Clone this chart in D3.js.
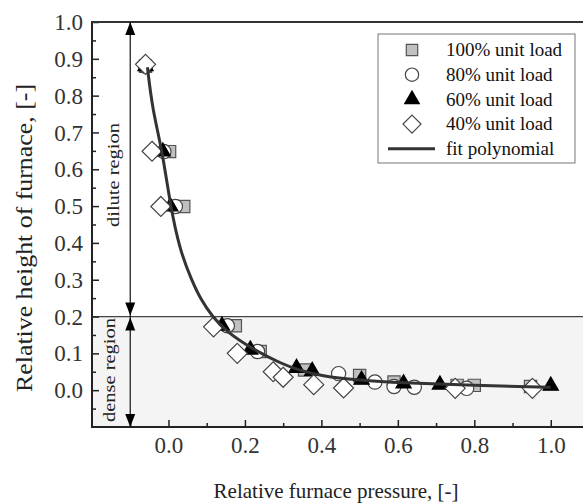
<!DOCTYPE html>
<html><head><meta charset="utf-8">
<script src="https://cdn.jsdelivr.net/npm/d3@7"></script>
<style>body{margin:0;background:#fff}svg{display:block}</style>
</head><body>
<script>
const xTicks=[0.0,0.2,0.4,0.6,0.8,1.0];
const yTicks=[0.0,0.1,0.2,0.3,0.4,0.5,0.6,0.7,0.8,0.9,1.0];
const load100=[[-0.06,0.88],[0.003,0.648],[0.04,0.499],[0.175,0.175],[0.24,0.105],[0.356,0.055],[0.50,0.04],[0.59,0.022],[0.755,0.013],[0.80,0.013],[0.947,0.01]];
const load80=[[-0.06,0.88],[-0.012,0.648],[0.018,0.499],[0.154,0.175],[0.233,0.105],[0.445,0.045],[0.54,0.022],[0.59,0.01],[0.643,0.008],[0.78,0.005]];
const load60=[[-0.06,0.88],[-0.015,0.648],[0.005,0.499],[0.14,0.175],[0.214,0.11],[0.335,0.06],[0.376,0.052],[0.505,0.028],[0.615,0.018],[0.71,0.015],[1.0,0.012]];
const load40=[[-0.06,0.885],[-0.043,0.649],[-0.02,0.499],[0.118,0.172],[0.18,0.1],[0.274,0.05],[0.30,0.035],[0.38,0.015],[0.458,0.006],[0.75,0.005],[0.952,0.005]];
const fitCurve=[[-0.055,0.877],[-0.042,0.763],[-0.016,0.65],[0.005,0.5],[0.03,0.38],[0.06,0.3],[0.085,0.245],[0.115,0.2],[0.15,0.16],[0.222,0.11],[0.3,0.07],[0.335,0.057],[0.4,0.038],[0.5,0.027],[0.6,0.02],[0.8,0.013],[1.0,0.008]];
const legendLabels=["100% unit load","80% unit load","60% unit load","40% unit load","fit polynomial"];

const W=583,H=504;
const FONT='"Liberation Serif"';
const svg=d3.select("body").append("svg").attr("width",W).attr("height",H).style("font-family",FONT);
const x=d3.scaleLinear().domain([-0.2,1.1]).range([92,589]);
const y=d3.scaleLinear().domain([-0.1,1.0]).range([427,22]);

// backgrounds
svg.append("rect").attr("x",x(-0.2)).attr("y",y(0.2)).attr("width",x(1.1)-x(-0.2)).attr("height",y(-0.1)-y(0.2)).attr("fill","#f4f4f4");
svg.append("line").attr("x1",x(-0.2)).attr("x2",x(1.1)).attr("y1",y(0.2)).attr("y2",y(0.2)).attr("stroke","#444").attr("stroke-width",1.2);

// axes
const yAx=d3.axisRight(y).tickValues(yTicks).tickSize(7).tickFormat(d3.format(".1f"));
const gy=svg.append("g").attr("transform",`translate(${x(-0.2)},0)`).call(yAx).attr("font-family",null).attr("font-size",null);
gy.select(".domain").remove();
gy.selectAll("line").attr("stroke","#222").attr("stroke-width",1.5);
gy.selectAll("text").attr("x",-9).attr("text-anchor","end").attr("dy","0.33em").style("font-family",FONT).style("font-size","23px").attr("fill","#333");
const yMinor=d3.axisRight(y).tickValues(d3.range(-0.05,1.0,0.1)).tickSize(4).tickFormat("");
const gym=svg.append("g").attr("transform",`translate(${x(-0.2)},0)`).call(yMinor);
gym.select(".domain").remove();gym.selectAll("line").attr("stroke","#222").attr("stroke-width",1.5);

const xAx=d3.axisTop(x).tickValues(xTicks).tickSize(7).tickFormat(d3.format(".1f"));
const gx=svg.append("g").attr("transform",`translate(0,${y(-0.1)})`).call(xAx).attr("font-family",null).attr("font-size",null);
gx.select(".domain").remove();
gx.selectAll("line").attr("stroke","#222").attr("stroke-width",1.5);
gx.selectAll("text").attr("y",26).attr("dy",0).style("font-family",FONT).style("font-size","23px").attr("fill","#333").attr("text-anchor","middle");
const xMinor=d3.axisTop(x).tickValues([-0.1,0.1,0.3,0.5,0.7,0.9]).tickSize(4).tickFormat("");
const gxm=svg.append("g").attr("transform",`translate(0,${y(-0.1)})`).call(xMinor);
gxm.select(".domain").remove();gxm.selectAll("line").attr("stroke","#222").attr("stroke-width",1.5);

// frame
svg.append("line").attr("x1",x(-0.2)).attr("x2",x(-0.2)).attr("y1",y(1.0)).attr("y2",y(-0.1)).attr("stroke","#222").attr("stroke-width",2);
svg.append("line").attr("x1",x(-0.2)-1).attr("x2",x(1.1)).attr("y1",y(1.0)).attr("y2",y(1.0)).attr("stroke","#333").attr("stroke-width",2);
svg.append("line").attr("x1",x(-0.2)-1).attr("x2",x(1.1)).attr("y1",y(-0.1)).attr("y2",y(-0.1)).attr("stroke","#222").attr("stroke-width",2);

// region arrows
const ax=x(-0.1);
svg.append("line").attr("x1",ax).attr("x2",ax).attr("y1",y(1.0)).attr("y2",y(-0.1)).attr("stroke","#111").attr("stroke-width",1.2);
function head(yy,dir){
  svg.append("path").attr("d",`M${ax},${yy} L${ax-5},${yy-dir*13} L${ax+5},${yy-dir*13} Z`).attr("fill","#000");
}
head(y(1.0),-1);head(y(0.2)-1,1);head(y(0.2)+1,-1);head(y(-0.1),1);
svg.append("text").attr("transform",`translate(${ax-11},175) rotate(-90)`).attr("text-anchor","middle").attr("textLength",104).attr("lengthAdjust","spacingAndGlyphs").style("font-family",FONT).style("font-size","17px").attr("fill","#222").text("dilute region");
svg.append("text").attr("transform",`translate(${ax-15},370) rotate(-90)`).attr("text-anchor","middle").attr("textLength",104).attr("lengthAdjust","spacingAndGlyphs").style("font-family",FONT).style("font-size","17px").attr("fill","#222").text("dense region");

// markers
const sq=d3.symbol().type(d3.symbolSquare).size(150);
const ci=d3.symbol().type(d3.symbolCircle).size(160);
const tr=d3.symbol().type(d3.symbolTriangle).size(100);
function diamondPath(r){return `M0,${-r}L${r},0L0,${r}L${-r},0Z`;}
function drawSeries(data,path,fill,stroke){
  svg.append("g").selectAll("path").data(data).join("path")
    .attr("transform",d=>`translate(${x(d[0])},${y(d[1])})`)
    .attr("d",path).attr("fill",fill).attr("stroke",stroke).attr("stroke-width",1.2);
}
drawSeries(load100,sq(),"#c0c0c0","#555");
drawSeries(load80,ci(),"#fff","#444");
drawSeries(load60,tr(),"#000","#000");
drawSeries(load40,diamondPath(10),"#fff","#444");

// fit line
svg.append("path").datum(fitCurve).attr("d",d3.line().x(d=>x(d[0])).y(d=>y(d[1])).curve(d3.curveBasis))
  .attr("fill","none").attr("stroke","#333").attr("stroke-width",3);

// legend
const lg=svg.append("g");
lg.append("rect").attr("x",378).attr("y",34).attr("width",197).attr("height",129).attr("fill","#fff").attr("stroke","#777").attr("stroke-width",1);
const rowY=i=>50+i*24.7;
const sx=412;
const sqL=d3.symbol().type(d3.symbolSquare).size(130);
const ciL=d3.symbol().type(d3.symbolCircle).size(140);
const trL=d3.symbol().type(d3.symbolTriangle).size(120);
lg.append("path").attr("transform",`translate(${sx},${rowY(0)})`).attr("d",sqL()).attr("fill","#c0c0c0").attr("stroke","#555").attr("stroke-width",1.2);
lg.append("path").attr("transform",`translate(${sx},${rowY(1)})`).attr("d",ciL()).attr("fill","#fff").attr("stroke","#444").attr("stroke-width",1.2);
lg.append("path").attr("transform",`translate(${sx},${rowY(2)})`).attr("d",trL()).attr("fill","#000");
lg.append("path").attr("transform",`translate(${sx},${rowY(3)})`).attr("d",diamondPath(9)).attr("fill","#fff").attr("stroke","#444").attr("stroke-width",1.2);
lg.append("line").attr("x1",388).attr("x2",435).attr("y1",rowY(4)).attr("y2",rowY(4)).attr("stroke","#333").attr("stroke-width",3);
lg.selectAll("text").data(legendLabels).join("text").attr("x",446).attr("y",(d,i)=>rowY(i)).attr("dy","0.33em")
  .style("font-family",FONT).style("font-size","19px").attr("fill","#111").text(d=>d);

// axis titles
svg.append("text").attr("x",336).attr("y",498).attr("text-anchor","middle").style("font-family",FONT).style("font-size","21px").attr("fill","#222").text("Relative furnace pressure, [-]");
svg.append("text").attr("transform",`translate(32,238) rotate(-90)`).attr("text-anchor","middle").attr("textLength",308).attr("lengthAdjust","spacingAndGlyphs").style("font-family",FONT).style("font-size","23px").attr("fill","#222").text("Relative height of furnace, [-]");
</script>
</body></html>
